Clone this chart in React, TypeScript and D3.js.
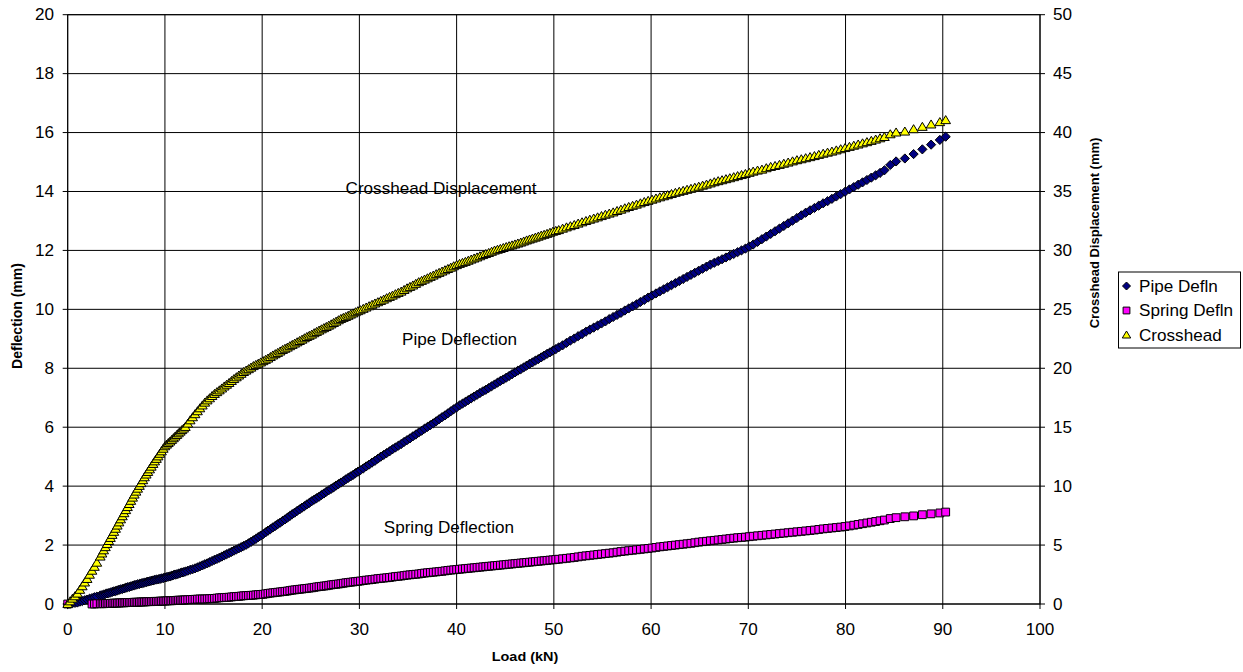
import React from "react";
import * as d3 from "d3";

const loadKN = [
  0, 0.25, 0.5, 0.75, 1, 1.25, 1.5, 1.75, 2, 2.25, 2.5, 2.75, 3,
  3.35, 3.53, 3.7, 3.88, 4.05, 4.23, 4.4, 4.58, 4.75, 4.93, 5.1, 5.28, 5.45, 5.63, 5.8, 5.98, 6.15, 6.33, 6.5, 6.68,
  6.85, 7.03, 7.2, 7.38, 7.55, 7.73, 7.9, 8.08, 8.25, 8.43, 8.6, 8.78, 8.95, 9.13, 9.3, 9.48, 9.65, 9.83, 10, 10.18,
  10.35, 10.53, 10.7, 10.88, 11.05, 11.23, 11.4, 11.58, 11.75, 11.93, 12.1, 12.35,
  12.6, 12.85, 13.1, 13.35, 13.6, 13.85, 14.1, 14.35, 14.6, 14.85, 15.1, 15.35, 15.6, 15.85, 16.1, 16.35, 16.6, 16.85,
  17.1, 17.35, 17.6, 17.85, 18.1, 18.35, 18.6, 18.85, 19.1, 19.35, 19.6, 19.85, 20.1, 20.35, 20.6, 20.85, 21.1, 21.35,
  21.6, 21.85, 22.1, 22.35, 22.6, 22.85, 23.1, 23.35, 23.6, 23.85, 24.1, 24.35, 24.6, 24.85, 25.1, 25.35, 25.6, 25.85,
  26.1, 26.35, 26.6, 26.85, 27.1, 27.35, 27.6, 27.85, 28.1, 28.35, 28.6, 28.85, 29.1, 29.35, 29.6, 29.85, 30.1, 30.4,
  30.7, 31.0, 31.3, 31.6, 31.9, 32.2, 32.5, 32.8, 33.1, 33.4, 33.7, 34.0, 34.3, 34.6, 34.9, 35.2, 35.5, 35.8,
  36.1, 36.4, 36.7, 37.0, 37.3, 37.6, 37.9, 38.2, 38.5, 38.8, 39.1, 39.4, 39.7, 40.0, 40.3, 40.6, 40.9, 41.2,
  41.5, 41.8, 42.1, 42.4, 42.7, 43.0, 43.3, 43.6, 43.9, 44.2, 44.5, 44.8, 45.1, 45.4, 45.7, 46.0, 46.3, 46.6,
  46.9, 47.2, 47.5, 47.8, 48.1, 48.4, 48.7, 49.0, 49.3, 49.6, 49.9, 50.2, 50.5, 50.9,
  51.3, 51.7, 52.1, 52.5, 52.9, 53.3, 53.7, 54.1, 54.5, 54.9, 55.3, 55.7, 56.1, 56.5, 56.9, 57.3, 57.7, 58.1,
  58.5, 58.9, 59.3, 59.7, 60.1, 60.5, 60.9, 61.3, 61.7, 62.1, 62.5, 62.9, 63.3, 63.7, 64.1, 64.5, 64.9, 65.3,
  65.7, 66.1, 66.5, 66.9, 67.3, 67.7, 68.1, 68.5, 68.9, 69.3, 69.7, 70.1, 70.5, 70.95,
  71.4, 71.85, 72.3, 72.75, 73.2, 73.65, 74.1, 74.55, 75.0, 75.45, 75.9, 76.35, 76.8, 77.25, 77.7, 78.15,
  78.6, 79.05, 79.5, 79.95, 80.4, 80.85, 81.3, 81.75, 82.2, 82.65, 83.1, 83.55, 84.0,
  84.6, 85.2, 86.1, 87.0, 87.9, 88.8, 89.7, 90.3,
];

const pipeDefln = [
  0, 0.01, 0.03, 0.04, 0.05, 0.08, 0.1, 0.13, 0.15, 0.18, 0.2, 0.23, 0.25,
  0.29, 0.3, 0.32, 0.34, 0.36, 0.37, 0.39, 0.41, 0.43, 0.44, 0.46, 0.48, 0.5, 0.51, 0.53, 0.55, 0.57, 0.58, 0.6, 0.62,
  0.64, 0.65, 0.67, 0.68, 0.7, 0.71, 0.73, 0.74, 0.76, 0.77, 0.79, 0.8, 0.82, 0.83, 0.84, 0.85, 0.87, 0.88, 0.9, 0.91,
  0.93, 0.94, 0.96, 0.98, 1.0, 1.01, 1.03, 1.05, 1.07, 1.08, 1.1, 1.13,
  1.16, 1.18, 1.21, 1.24, 1.28, 1.31, 1.35, 1.38, 1.42, 1.46, 1.5, 1.53, 1.57, 1.61, 1.65, 1.69, 1.73, 1.77,
  1.81, 1.85, 1.89, 1.93, 1.97, 2.01, 2.06, 2.11, 2.16, 2.21, 2.27, 2.32, 2.37, 2.43, 2.49, 2.54, 2.6, 2.65,
  2.71, 2.76, 2.82, 2.87, 2.93, 2.99, 3.05, 3.1, 3.16, 3.21, 3.27, 3.32, 3.38, 3.43, 3.49, 3.54, 3.59, 3.64,
  3.7, 3.75, 3.81, 3.86, 3.91, 3.96, 4.02, 4.07, 4.12, 4.17, 4.23, 4.28, 4.33, 4.38, 4.44, 4.49, 4.54, 4.6,
  4.67, 4.73, 4.8, 4.86, 4.93, 5.0, 5.06, 5.12, 5.18, 5.25, 5.31, 5.37, 5.43, 5.5, 5.56, 5.62, 5.69, 5.75,
  5.82, 5.88, 5.95, 6.01, 6.07, 6.13, 6.2, 6.27, 6.34, 6.4, 6.47, 6.54, 6.61, 6.67, 6.74, 6.8, 6.86, 6.92,
  6.98, 7.04, 7.1, 7.16, 7.22, 7.27, 7.33, 7.39, 7.45, 7.51, 7.57, 7.62, 7.68, 7.74, 7.8, 7.86, 7.92, 7.97,
  8.03, 8.09, 8.15, 8.2, 8.26, 8.31, 8.37, 8.43, 8.49, 8.54, 8.6, 8.65, 8.71, 8.78,
  8.86, 8.94, 9.01, 9.09, 9.16, 9.24, 9.31, 9.38, 9.45, 9.52, 9.59, 9.67, 9.74, 9.81, 9.88, 9.96, 10.03, 10.1,
  10.17, 10.25, 10.32, 10.4, 10.47, 10.54, 10.61, 10.68, 10.75, 10.82, 10.89, 10.96, 11.03, 11.1, 11.17, 11.24, 11.31, 11.38,
  11.45, 11.52, 11.58, 11.64, 11.7, 11.76, 11.82, 11.88, 11.94, 12.0, 12.06, 12.13, 12.2, 12.29,
  12.38, 12.47, 12.56, 12.65, 12.74, 12.83, 12.92, 13.01, 13.1, 13.19, 13.28, 13.36, 13.44, 13.52, 13.6, 13.67,
  13.75, 13.83, 13.91, 13.99, 14.07, 14.15, 14.23, 14.31, 14.39, 14.47, 14.55, 14.63, 14.72,
  14.9, 15.02, 15.12, 15.27, 15.43, 15.59, 15.75, 15.86,
];

const springDefln: (number | null)[] = [
  0, null, null, null, null, null, null, null, null, null, 0, 0, 0.01,
  0.01, 0.01, 0.01, 0.015, 0.02, 0.02, 0.02, 0.025, 0.03, 0.03, 0.03, 0.035, 0.04, 0.04, 0.04, 0.045, 0.05, 0.05, 0.05, 0.055,
  0.06, 0.06, 0.06, 0.065, 0.07, 0.07, 0.07, 0.075, 0.08, 0.08, 0.08, 0.085, 0.09, 0.09, 0.09, 0.095, 0.1, 0.1, 0.1, 0.105,
  0.11, 0.11, 0.11, 0.115, 0.12, 0.125, 0.13, 0.13, 0.13, 0.135, 0.14, 0.145,
  0.15, 0.155, 0.16, 0.165, 0.17, 0.17, 0.17, 0.175, 0.18, 0.185, 0.19, 0.2, 0.21, 0.215, 0.22, 0.225, 0.23, 0.24,
  0.25, 0.255, 0.26, 0.27, 0.28, 0.285, 0.29, 0.295, 0.3, 0.31, 0.32, 0.325, 0.33, 0.345, 0.36, 0.37, 0.38, 0.39,
  0.4, 0.41, 0.42, 0.43, 0.44, 0.455, 0.47, 0.48, 0.49, 0.5, 0.51, 0.52, 0.53, 0.54, 0.55, 0.565, 0.58, 0.59,
  0.6, 0.61, 0.62, 0.635, 0.65, 0.66, 0.67, 0.68, 0.69, 0.705, 0.72, 0.73, 0.74, 0.75, 0.76, 0.77, 0.78, 0.795,
  0.81, 0.82, 0.83, 0.845, 0.86, 0.87, 0.88, 0.89, 0.9, 0.915, 0.93, 0.94, 0.95, 0.965, 0.98, 0.99, 1.0, 1.01,
  1.02, 1.035, 1.05, 1.06, 1.07, 1.08, 1.09, 1.1, 1.11, 1.125, 1.14, 1.15, 1.16, 1.17, 1.18, 1.19, 1.2, 1.21,
  1.22, 1.23, 1.24, 1.25, 1.26, 1.27, 1.28, 1.29, 1.3, 1.31, 1.32, 1.33, 1.34, 1.35, 1.36, 1.37, 1.38, 1.39,
  1.4, 1.41, 1.42, 1.43, 1.44, 1.45, 1.46, 1.47, 1.48, 1.49, 1.5, 1.51, 1.52, 1.535,
  1.55, 1.565, 1.58, 1.6, 1.62, 1.635, 1.65, 1.665, 1.68, 1.695, 1.71, 1.725, 1.74, 1.76, 1.78, 1.795, 1.81, 1.825,
  1.84, 1.855, 1.87, 1.885, 1.9, 1.92, 1.94, 1.955, 1.97, 1.985, 2.0, 2.015, 2.03, 2.045, 2.06, 2.08, 2.1, 2.115,
  2.13, 2.145, 2.16, 2.175, 2.19, 2.205, 2.22, 2.235, 2.25, 2.26, 2.27, 2.285, 2.3, 2.315,
  2.33, 2.345, 2.36, 2.375, 2.39, 2.405, 2.42, 2.435, 2.45, 2.465, 2.48, 2.495, 2.51, 2.53, 2.55, 2.565,
  2.58, 2.595, 2.61, 2.63, 2.65, 2.675, 2.7, 2.725, 2.75, 2.775, 2.8, 2.825, 2.85,
  2.9, 2.93, 2.96, 2.99, 3.03, 3.06, 3.09, 3.12,
];

const crossheadDisp = [
  0, 0.22, 0.45, 0.65, 0.88, 1.2, 1.5, 1.82, 2.12, 2.48, 2.82, 3.15, 3.5,
  4.02, 4.28, 4.55, 4.82, 5.08, 5.34, 5.6, 5.86, 6.12, 6.38, 6.65, 6.92, 7.18, 7.44, 7.7, 7.96, 8.22, 8.48, 8.75, 9.02,
  9.28, 9.53, 9.78, 10.02, 10.25, 10.5, 10.75, 10.98, 11.2, 11.42, 11.65, 11.88, 12.1, 12.31, 12.52, 12.74, 12.95, 13.17, 13.38, 13.52,
  13.65, 13.78, 13.92, 14.06, 14.2, 14.34, 14.48, 14.62, 14.75, 14.88, 15.02, 15.3,
  15.58, 15.84, 16.1, 16.35, 16.6, 16.84, 17.08, 17.27, 17.45, 17.64, 17.82, 17.97, 18.12, 18.28, 18.45, 18.6, 18.75, 18.92,
  19.08, 19.23, 19.38, 19.53, 19.68, 19.8, 19.92, 20.05, 20.18, 20.28, 20.38, 20.49, 20.6, 20.71, 20.82, 20.95, 21.08, 21.19,
  21.3, 21.42, 21.55, 21.65, 21.75, 21.87, 21.98, 22.09, 22.2, 22.31, 22.42, 22.54, 22.65, 22.75, 22.85, 22.97, 23.08, 23.19,
  23.3, 23.4, 23.5, 23.61, 23.72, 23.84, 23.95, 24.07, 24.18, 24.27, 24.35, 24.45, 24.55, 24.65, 24.75, 24.84, 24.92, 25.04,
  25.15, 25.26, 25.38, 25.49, 25.6, 25.71, 25.82, 25.94, 26.05, 26.16, 26.28, 26.39, 26.5, 26.64, 26.78, 26.9, 27.02, 27.16,
  27.3, 27.41, 27.52, 27.63, 27.75, 27.86, 27.98, 28.09, 28.2, 28.31, 28.42, 28.53, 28.65, 28.75, 28.85, 28.94, 29.02, 29.12,
  29.22, 29.31, 29.4, 29.5, 29.6, 29.69, 29.78, 29.88, 29.98, 30.05, 30.12, 30.2, 30.28, 30.35, 30.42, 30.5, 30.58, 30.66,
  30.75, 30.84, 30.92, 31.0, 31.08, 31.16, 31.25, 31.32, 31.4, 31.49, 31.58, 31.65, 31.72, 31.84,
  31.95, 32.05, 32.15, 32.27, 32.38, 32.49, 32.6, 32.7, 32.8, 32.91, 33.02, 33.12, 33.22, 33.34, 33.45, 33.57, 33.68, 33.78,
  33.88, 33.99, 34.1, 34.2, 34.3, 34.4, 34.5, 34.59, 34.68, 34.78, 34.88, 34.97, 35.05, 35.14, 35.22, 35.31, 35.4, 35.49,
  35.58, 35.68, 35.78, 35.87, 35.95, 36.04, 36.12, 36.21, 36.3, 36.39, 36.48, 36.58, 36.68, 36.77,
  36.85, 36.97, 37.08, 37.16, 37.25, 37.35, 37.45, 37.55, 37.65, 37.73, 37.82, 37.91, 38.0, 38.1, 38.2, 38.29,
  38.38, 38.48, 38.58, 38.68, 38.78, 38.88, 38.98, 39.08, 39.18, 39.29, 39.4, 39.51, 39.62,
  39.85, 40.0, 40.08, 40.28, 40.48, 40.68, 40.88, 41.05,
];

const xTicks = [0, 10, 20, 30, 40, 50, 60, 70, 80, 90, 100];
const yLeftTicks = [0, 2, 4, 6, 8, 10, 12, 14, 16, 18, 20];
const yRightTicks = [0, 5, 10, 15, 20, 25, 30, 35, 40, 45, 50];

const legendItems = [
  { name: "Pipe Defln", shape: "diamond", fill: "#000080" },
  { name: "Spring Defln", shape: "square", fill: "#FF00FF" },
  { name: "Crosshead", shape: "triangle", fill: "#FFFF00" },
];

const annotations = [
  { text: "Crosshead Displacement", x: 38.4, y: 14.1 },
  { text: "Pipe Deflection", x: 40.3, y: 9.0 },
  { text: "Spring Deflection", x: 39.2, y: 2.6 },
];

const FONT = "'Liberation Sans', Arial, sans-serif";
const SX = 1.07;

function markerPath(shape: string, s: number) {
  if (shape === "diamond") return `M0,${-s}L${s},0L0,${s}L${-s},0Z`;
  if (shape === "square") return `M${-s * 0.85},${-s * 0.85}H${s * 0.85}V${s * 0.85}H${-s * 0.85}Z`;
  return `M0,${-s}L${s * 1.05},${s * 0.75}L${-s * 1.05},${s * 0.75}Z`;
}

function T(props: { x: number; y: number; anchor?: string; size: number; bold?: boolean; children: React.ReactNode }) {
  const { x, y, anchor = "start", size, bold, children } = props;
  return (
    <text
      transform={`translate(${x},${y}) scale(${SX},1)`}
      textAnchor={anchor}
      dy="0.36em"
      fontSize={size}
      fontWeight={bold ? "bold" : "normal"}
      fill="#000"
    >
      {children}
    </text>
  );
}

export default function App() {
  const W = 1243;
  const H = 672;
  const left = 67.7, right = 1040, top = 14.7, bottom = 604;
  const x = d3.scaleLinear().domain([0, 100]).range([left, right]);
  const yL = d3.scaleLinear().domain([0, 20]).range([bottom, top]);
  const yR = d3.scaleLinear().domain([0, 50]).range([bottom, top]);

  const n = Math.min(loadKN.length, pipeDefln.length, springDefln.length, crossheadDisp.length);
  const idx = d3.range(n);

  const pipePts = idx.map((i) => [x(loadKN[i]), yL(pipeDefln[i])]);
  const springPts = idx
    .filter((i) => springDefln[i] !== null)
    .map((i) => [x(loadKN[i]), yL(springDefln[i] as number)]);
  const crossPts = idx.map((i) => [x(loadKN[i]), yR(crossheadDisp[i])]);

  const mk = 4.6;

  return (
    <svg
      width={W}
      height={H}
      style={{ position: "absolute", left: 0, top: 0, background: "#fff" }}
      fontFamily={FONT}
    >
      <rect x={0} y={0} width={W} height={H} fill="#fff" />
      {yLeftTicks.map((t) => (
        <line key={"h" + t} x1={left} x2={right} y1={yL(t)} y2={yL(t)} stroke="#000" strokeWidth={1} />
      ))}
      {xTicks.map((t) => (
        <line key={"v" + t} x1={x(t)} x2={x(t)} y1={top} y2={bottom} stroke="#000" strokeWidth={1} />
      ))}
      <rect x={left} y={top} width={right - left} height={bottom - top} fill="none" stroke="#000" strokeWidth={1} />

      {yLeftTicks.map((t) => (
        <g key={"yl" + t}>
          <line x1={left - 5} x2={left} y1={yL(t)} y2={yL(t)} stroke="#000" />
          <T x={54} y={yL(t)} anchor="end" size={16}>{t}</T>
        </g>
      ))}
      {yRightTicks.map((t) => (
        <g key={"yr" + t}>
          <line x1={right} x2={right + 5} y1={yR(t)} y2={yR(t)} stroke="#000" />
          <T x={1053} y={yR(t)} anchor="start" size={16}>{t}</T>
        </g>
      ))}
      {xTicks.map((t) => (
        <g key={"xt" + t}>
          <line x1={x(t)} x2={x(t)} y1={bottom} y2={bottom + 5} stroke="#000" />
          <T x={x(t)} y={629} anchor="middle" size={16}>{t}</T>
        </g>
      ))}

      <T x={525} y={656} anchor="middle" size={13.5} bold>Load (kN)</T>
      <text
        transform={`translate(22,316) rotate(-90)`}
        textAnchor="middle"
        fontSize={14}
        fontWeight="bold"
      >
        Deflection (mm)
      </text>
      <text
        transform={`translate(1099,233) rotate(-90)`}
        textAnchor="middle"
        fontSize={13}
        fontWeight="bold"
      >
        Crosshead Displacement (mm)
      </text>

      <g>
        {pipePts.map((p, i) => (
          <path key={"p" + i} d={markerPath("diamond", mk)} transform={`translate(${p[0]},${p[1]})`} fill="#000080" stroke="#000" strokeWidth={1} />
        ))}
      </g>
      <g>
        {springPts.map((p, i) => (
          <path key={"s" + i} d={markerPath("square", mk)} transform={`translate(${p[0]},${p[1]})`} fill="#FF00FF" stroke="#000" strokeWidth={1} />
        ))}
      </g>
      <g>
        {crossPts.map((p, i) => (
          <path key={"c" + i} d={markerPath("triangle", mk)} transform={`translate(${p[0]},${p[1]})`} fill="#FFFF00" stroke="#000" strokeWidth={1} />
        ))}
      </g>

      {annotations.map((a) => (
        <T key={a.text} x={x(a.x)} y={yL(a.y)} anchor="middle" size={16}>{a.text}</T>
      ))}

      <rect x={1118.5} y={272} width={122} height={76} fill="#fff" stroke="#000" strokeWidth={1} />
      {legendItems.map((it, i) => (
        <g key={it.name}>
          <path d={markerPath(it.shape, 4)} transform={`translate(1126.5,${286 + i * 24.5})`} fill={it.fill} stroke="#000" strokeWidth={1} />
          <T x={1139} y={286 + i * 24.5} size={16}>{it.name}</T>
        </g>
      ))}
    </svg>
  );
}
